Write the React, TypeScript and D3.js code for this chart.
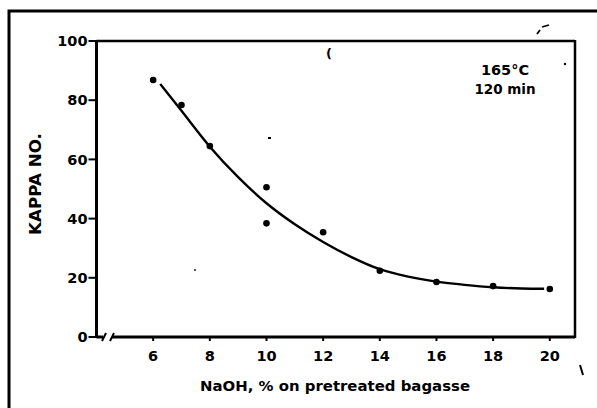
import React from "react";
import * as d3 from "d3";

const W = 597;
const H = 408;

// measured data points (NaOH %, Kappa no.)
const pointX = [6, 7, 8, 10, 10, 12, 14, 16, 18, 20];
const pointY = [86.8, 78.4, 64.5, 50.6, 38.4, 35.4, 22.4, 18.6, 17.2, 16.2];

// fitted curve
const curveX = [6.25, 7, 8, 9, 10, 11, 12, 13, 14, 15, 16, 17, 18, 19, 19.8];
const curveY = [85.5, 76.4, 64.3, 54, 45.2, 38.1, 32.1, 27, 22.9, 20.4, 18.7, 17.6, 16.8, 16.4, 16.3];

const xTicks = [6, 8, 10, 12, 14, 16, 18, 20];
const yTicks = [0, 20, 40, 60, 80, 100];

const FONT = "'DejaVu Sans', Arial, sans-serif";

export default function App() {
  const x = d3.scaleLinear().domain([4, 20.89]).range([96.5, 575]);
  const y = d3.scaleLinear().domain([0, 100]).range([337, 41]);

  const line = d3
    .line<number>()
    .x((_, i) => x(curveX[i]))
    .y((d) => y(d))
    .curve(d3.curveCatmullRom.alpha(0.5));

  const x0 = x.range()[0];
  const x1 = x.range()[1];
  const y0 = y.range()[0];
  const y1 = y.range()[1];

  return (
    <svg
      width={W}
      height={H}
      style={{ position: "absolute", left: 0, top: 0, background: "#fff" }}
    >
      <rect x={0} y={0} width={W} height={H} fill="#fff" />
      {/* outer frame (partial) */}
      <path d={`M9,${H} L9,11 L${W},11`} fill="none" stroke="#000" strokeWidth={3} />

      {/* plot box */}
      <line x1={x0} y1={y1} x2={x1} y2={y1} stroke="#000" strokeWidth={2.5} />
      <line x1={x1} y1={y1 - 1} x2={x1} y2={y0 + 1} stroke="#000" strokeWidth={2.5} />
      <line x1={x0} y1={y1 - 1} x2={x0} y2={y0 + 1} stroke="#000" strokeWidth={3} />
      {/* x axis with break */}
      <line x1={x0} y1={y0} x2={103} y2={y0} stroke="#000" strokeWidth={3} />
      <line x1={112} y1={y0} x2={x1} y2={y0} stroke="#000" strokeWidth={3} />
      <line x1={102} y1={y0 + 4} x2={106} y2={y0 - 4} stroke="#000" strokeWidth={2} />
      <line x1={110} y1={y0 + 4} x2={114} y2={y0 - 4} stroke="#000" strokeWidth={2} />

      {/* y ticks */}
      {yTicks.map((t) => (
        <g key={"y" + t}>
          <line x1={x0 - 8} y1={y(t)} x2={x0} y2={y(t)} stroke="#000" strokeWidth={2} />
          <text
            x={x0 - 9}
            y={y(t)}
            dy="0.36em"
            textAnchor="end"
            fontFamily={FONT}
            fontWeight="bold"
            fontSize={14.5}
            fill="#000"
          >
            {t}
          </text>
        </g>
      ))}

      {/* x ticks */}
      {xTicks.map((t) => (
        <g key={"x" + t}>
          <line x1={x(t)} y1={y0} x2={x(t)} y2={y0 + 4} stroke="#000" strokeWidth={2} />
          <text
            x={x(t)}
            y={y0 + 24}
            textAnchor="middle"
            fontFamily={FONT}
            fontWeight="bold"
            fontSize={14.5}
            fill="#000"
          >
            {t}
          </text>
        </g>
      ))}

      {/* axis titles */}
      <text
        x={335}
        y={391}
        textAnchor="middle"
        fontFamily={FONT}
        fontWeight="bold"
        fontSize={14.5}
        textLength={270}
        lengthAdjust="spacingAndGlyphs"
        fill="#000"
      >
        NaOH, % on pretreated bagasse
      </text>
      <text
        transform={`translate(41,184) rotate(-90)`}
        textAnchor="middle"
        fontFamily={FONT}
        fontWeight="bold"
        fontSize={15}
        textLength={102}
        lengthAdjust="spacingAndGlyphs"
        fill="#000"
      >
        KAPPA NO.
      </text>

      {/* annotation */}
      <text x={505} y={75} textAnchor="middle" fontFamily={FONT} fontWeight="bold" fontSize={14.5} fill="#000">
        165°C
      </text>
      <text x={505} y={94} textAnchor="middle" fontFamily={FONT} fontWeight="bold" fontSize={13.5} fill="#000">
        120 min
      </text>

      {/* curve */}
      <path d={line(curveY) || ""} fill="none" stroke="#000" strokeWidth={2.4} />

      {/* points */}
      {pointY.map((v, i) => (
        <circle key={"p" + i} cx={x(pointX[i])} cy={y(v)} r={3.3} fill="#000" />
      ))}

      {/* scan specks */}
      <text x={326} y={58} fontFamily={FONT} fontWeight="bold" fontSize={13} fill="#000">(</text>
      <rect x={268} y={137} width={3} height={2} fill="#000" />
      <circle cx={565} cy={64} r={1.2} fill="#000" />
      <circle cx={195} cy={270} r={0.9} fill="#000" />
      <path d="M537,34 L540,30 M542,27 L549,25" stroke="#000" strokeWidth={1.8} fill="none" />
      <path d="M580,365 L583,375" stroke="#000" strokeWidth={2} fill="none" />
    </svg>
  );
}
